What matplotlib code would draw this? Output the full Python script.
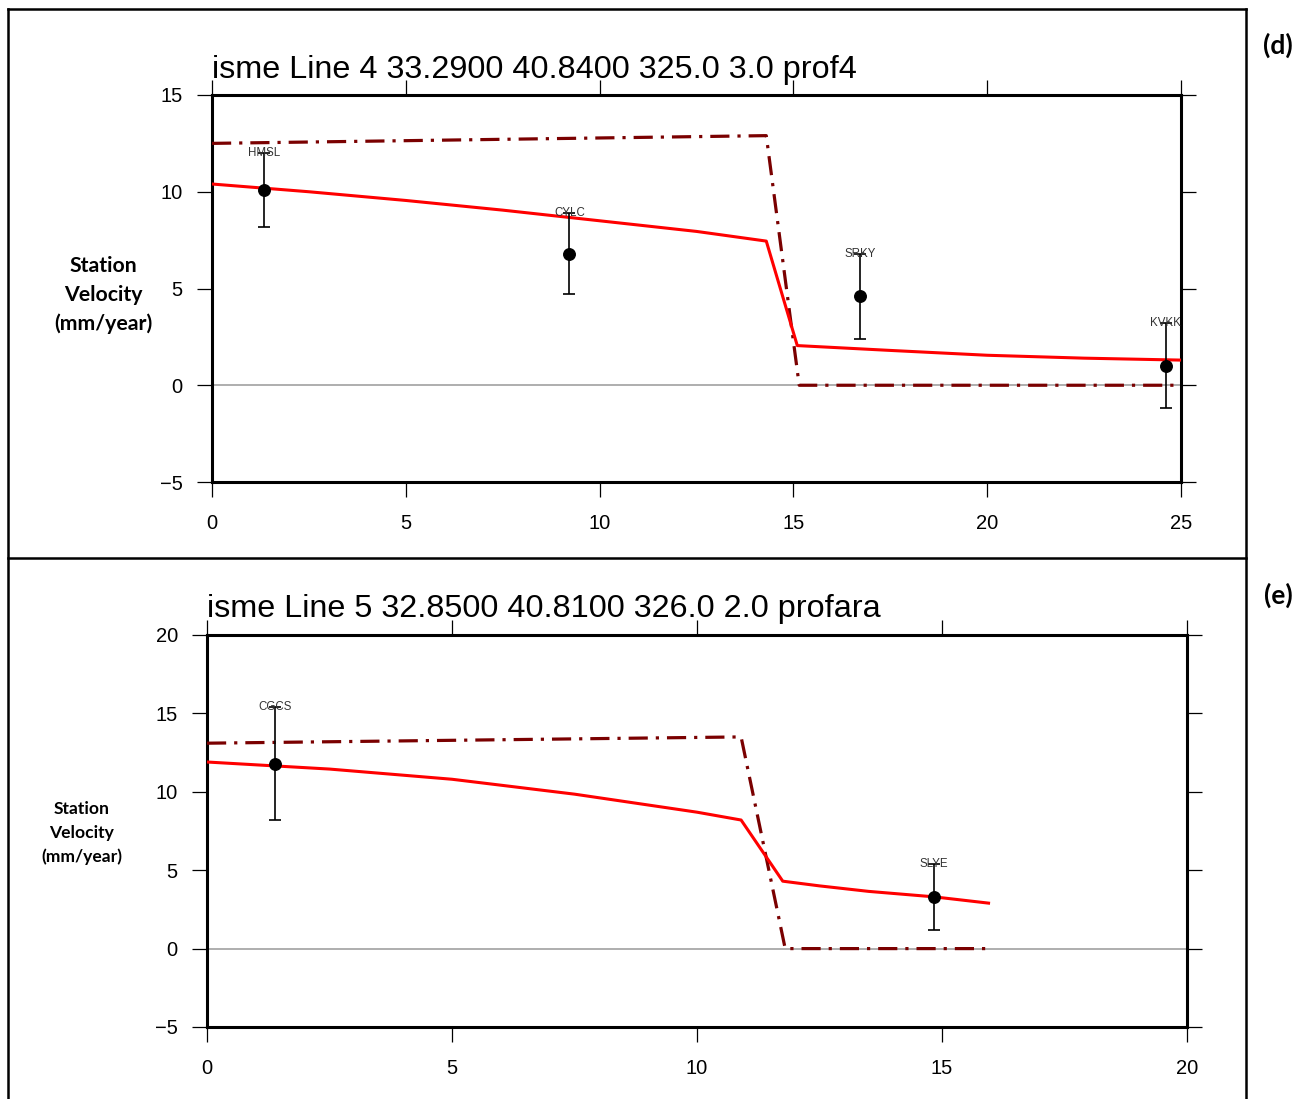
import numpy as np
import matplotlib.pyplot as plt
from matplotlib.lines import Line2D

# panel (d): profile line 4
d_title = "isme Line 4 33.2900 40.8400 325.0 3.0 prof4"
d_sta_names = ["HMSL", "CYLC", "SRKY", "KVKK"]
d_sta_dist = [1.34, 9.22, 16.72, 24.61]
d_sta_vel = [10.1, 6.8, 4.6, 1.0]
d_sta_err = [1.9, 2.1, 2.2, 2.2]
d_model_x = [0, 2.5, 5, 7.5, 10, 12.5, 14.3, 15.1, 17.5, 20, 22.5, 25]
d_model_v = [10.4, 10.0, 9.55, 9.05, 8.5, 7.95, 7.45, 2.05, 1.8, 1.55, 1.4, 1.3]
d_step_x = [0, 14.3, 15.15, 25]
d_step_v = [12.5, 12.9, 0.0, 0.0]

# panel (e): profile line 5
e_title = "isme Line 5 32.8500 40.8100 326.0 2.0 profara"
e_sta_names = ["CGCS", "SLYE"]
e_sta_dist = [1.39, 14.84]
e_sta_vel = [11.8, 3.3]
e_sta_err = [3.6, 2.1]
e_model_x = [0, 2.5, 5, 7.5, 10, 10.9, 11.75, 12.5, 13.5, 14.84, 15.95]
e_model_v = [11.9, 11.45, 10.8, 9.85, 8.7, 8.2, 4.3, 4.0, 3.65, 3.3, 2.9]
e_step_x = [0, 10.9, 11.8, 15.95]
e_step_v = [13.1, 13.5, 0.0, 0.0]

W, H = 1309, 1099
fig = plt.figure(figsize=(W / 100, H / 100), dpi=100)


def draw_panel(rect, title, names, dist, vel, err, mx, mv, sx, sv,
               xlim, ylim, ylab_xy, ylab_size, ylab_space):
    ax = fig.add_axes(rect)
    ax.axhline(0, color="#999999", lw=1.1, zorder=1)
    ax.plot(sx, sv, color="#7a0000", lw=2.3, dashes=(6, 2.5, 1, 2.5), zorder=3)
    ax.plot(mx, mv, color="#ff0000", lw=2.2, zorder=4)
    ax.errorbar(dist, vel, yerr=err, fmt="o", color="black", ms=8.3,
                elinewidth=1.2, capsize=4, capthick=1.2, zorder=5)
    for n, x, v, e in zip(names, dist, vel, err):
        ax.text(x, v + e, n, ha="center", va="center", fontsize=8.3,
                color="#333333", zorder=6)
    ax.set_xlim(*xlim)
    ax.set_ylim(*ylim)
    ax.set_xticks(np.arange(xlim[0], xlim[1] + 0.1, 5))
    ax.set_yticks(np.arange(ylim[0], ylim[1] + 0.1, 5))
    ax.tick_params(direction="out", length=11, width=0.9, labelsize=14.5,
                   pad=10, top=True, right=True)
    ax.tick_params(axis="x", pad=12)
    for s in ax.spines.values():
        s.set_linewidth(2.2)
    ax.text(0, 1.045, title, transform=ax.transAxes, ha="left",
            va="baseline", fontsize=23.3, family="Liberation Sans")
    fig.text(ylab_xy[0] / W, 1 - ylab_xy[1] / H,
             "Station\nVelocity\n(mm/year)", ha="center", va="center",
             fontsize=ylab_size, fontweight="bold", family="Lato",
             linespacing=ylab_space)
    return ax


plt.rcParams["font.family"] = ["Liberation Sans", "DejaVu Sans"]

draw_panel([212 / W, 1 - 482 / H, 969 / W, 387 / H], d_title,
           d_sta_names, d_sta_dist, d_sta_vel, d_sta_err,
           d_model_x, d_model_v, d_step_x, d_step_v,
           (0, 25), (-5, 15), (103, 295), 15.3, 1.55)
draw_panel([207 / W, 1 - 1027 / H, 980 / W, 392 / H], e_title,
           e_sta_names, e_sta_dist, e_sta_vel, e_sta_err,
           e_model_x, e_model_v, e_step_x, e_step_v,
           (0, 20), (-5, 20), (82, 833), 12.6, 1.55)

# panel frames
for xs, ys in [([8, 1246], [9, 9]), ([8, 1246], [558, 558]),
               ([8, 8], [9, 1099]), ([1246, 1246], [9, 1099])]:
    fig.add_artist(Line2D([x / W for x in xs], [1 - y / H for y in ys],
                          color="black", lw=1.8))

fig.text(1278 / W, 1 - 45 / H, "(d)", ha="center", va="center",
         fontsize=19, fontweight="bold", family="Lato")
fig.text(1278 / W, 1 - 595 / H, "(e)", ha="center", va="center",
         fontsize=19, fontweight="bold", family="Lato")

fig.savefig("out.png", dpi=100)
